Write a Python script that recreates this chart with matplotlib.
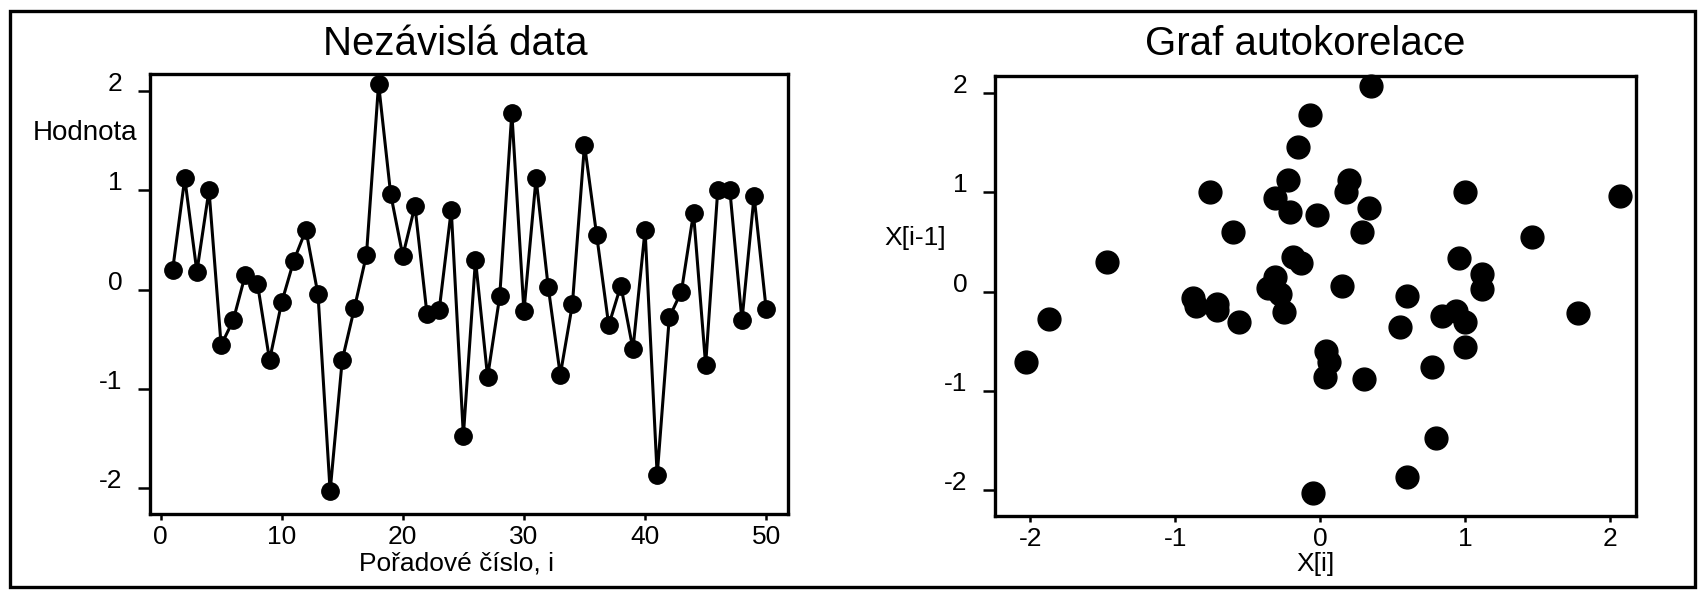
import numpy as np
import matplotlib
matplotlib.use('Agg')
import matplotlib.pyplot as plt
from matplotlib.patches import Rectangle

# pořadové číslo i a hodnoty X[i]
idx = np.arange(1, 51)
values = np.array([0.20, 1.12, 0.18, 1.00, -0.56, -0.31, 0.15, 0.06, -0.71, -0.13,
                   0.29, 0.60, -0.05, -2.03, -0.71, -0.19, 0.35, 2.07, 0.96, 0.34,
                   0.84, -0.25, -0.21, 0.80, -1.47, 0.30, -0.88, -0.07, 1.78, -0.22,
                   1.12, 0.03, -0.86, -0.15, 1.46, 0.55, -0.36, 0.04, -0.60, 0.60,
                   -1.87, -0.28, -0.02, 0.77, -0.76, 1.00, 1.00, -0.31, 0.94, -0.20])
xticks_left = [0, 10, 20, 30, 40, 50]
xticks_right = [-2, -1, 0, 1, 2]
yticks = [-2, -1, 0, 1, 2]

W, H = 1701, 593
plt.rcParams['font.family'] = ['Liberation Sans', 'DejaVu Sans']
plt.rcParams['axes.unicode_minus'] = False


def px(x, y):
    return x / W, 1 - y / H


def style(ax):
    for s in ax.spines.values():
        s.set_linewidth(2.4)
    ax.set_yticks(yticks)
    ax.tick_params(axis='y', direction='out', length=9, width=1.8, pad=11, labelsize=19)
    ax.tick_params(axis='x', direction='out', length=4, width=1.8, pad=4, labelsize=19)
    for lab in ax.get_yticklabels():
        lab.set_verticalalignment('baseline')


fig = plt.figure(figsize=(W / 100, H / 100), dpi=100)

ax1 = fig.add_axes([150 / W, 1 - 514 / H, 638 / W, 440 / H])
ax1.plot(idx, values, '-o', color='black', lw=2.2, markersize=12.5, clip_on=False)
ax1.set_xlim(-0.87, 51.8)
ax1.set_ylim(-2.26, 2.17)
ax1.set_xticks(xticks_left)
style(ax1)

ax2 = fig.add_axes([995 / W, 1 - 516 / H, 641 / W, 440 / H])
ax2.scatter(values[:-1], values[1:], s=270, color='black', clip_on=False, zorder=3)
ax2.set_xlim(-2.245, 2.18)
ax2.set_ylim(-2.26, 2.17)
ax2.set_xticks(xticks_right)
style(ax2)

fig.text(*px(455, 55), 'Nezávislá data', ha='center', va='baseline', fontsize=29)
fig.text(*px(1305, 55), 'Graf autokorelace', ha='center', va='baseline', fontsize=29)
fig.text(*px(33, 140), 'Hodnota', ha='left', va='baseline', fontsize=20)
fig.text(*px(884, 245), 'X[i-1]', ha='left', va='baseline', fontsize=19)
fig.text(*px(456, 570), 'Pořadové číslo, i', ha='center', va='baseline', fontsize=19)
fig.text(*px(1316, 571), 'X[i]', ha='center', va='baseline', fontsize=19)

x0, y0 = px(10, 587)
x1, y1 = px(1695, 11)
fig.patches.append(Rectangle((x0, y0), x1 - x0, y1 - y0, fill=False, lw=2.4,
                             edgecolor='black', transform=fig.transFigure))

fig.savefig('out.png', dpi=100)
